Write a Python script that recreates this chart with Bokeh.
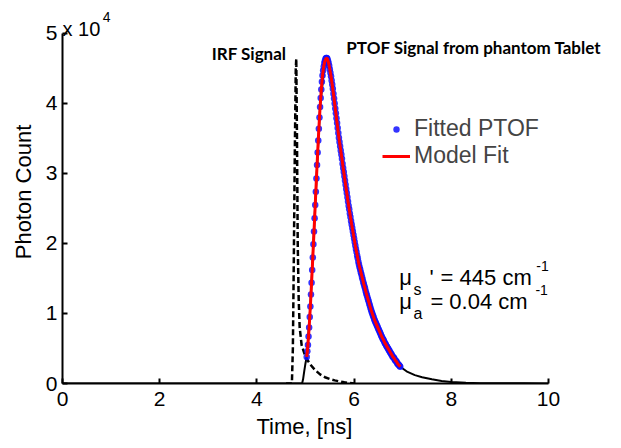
import numpy as np
from bokeh.plotting import figure
from bokeh.models import Range1d, Label, Legend, LegendItem, FixedTicker, CustomJSTickFormatter, Title
from bokeh.embed import file_html
from bokeh.resources import INLINE

# ---------------- data ----------------
# Fitted PTOF (blue dots), uniform time bins
fit_start_ns = 5.025
fit_step_ns = 0.0125
fitted_ptof = [
    3800, 4600, 5500, 6700, 8000, 9500, 11000, 12700, 14400, 16200,
    18000, 19900, 21700, 23600, 25500, 27400, 29300, 31200, 33000, 34700,
    36400, 38000, 39500, 40800, 42000, 43100, 44000, 44700, 45300, 45800,
    46100, 46400, 46500, 46500, 46400, 46100, 45800, 45400, 44900, 44400,
    43900, 43300, 42700, 42100, 41400, 40700, 40000, 39300, 38600, 37900,
    37200, 36500, 35800, 35100, 34500, 33900, 33300, 32700, 32100, 31400,
    30800, 30200, 29600, 29000, 28400, 27800, 27200, 26600, 26000, 25400,
    24900, 24300, 23800, 23200, 22700, 22200, 21700, 21200, 20700, 20200,
    19700, 19200, 18800, 18300, 17900, 17400, 17000, 16600, 16300, 15900,
    15600, 15200, 14900, 14500, 14200, 13900, 13600, 13200, 12900, 12600,
    12300, 12000, 11700, 11400, 11100, 10800, 10500, 10200, 10000, 9700,
    9500, 9200, 9000, 8800, 8600, 8400, 8200, 8000, 7800, 7600,
    7400, 7200, 7000, 6800, 6600, 6400, 6300, 6100, 5900, 5700,
    5600, 5400, 5300, 5100, 5000, 4800, 4700, 4500, 4400, 4200,
    4100, 3900, 3800, 3700, 3600, 3400, 3300, 3200, 3100, 2900,
    2800, 2700, 2600, 2500, 2400,
]

# Model fit (red line)
model_start_ns = 5.025
model_step_ns = 0.025
model_fit = [
    3800, 5500, 8000, 11000, 14400, 18000, 21700, 25500, 29300, 33000,
    36400, 39500, 42000, 44000, 45300, 46100, 46500, 46400, 45800, 44900,
    43900, 42700, 41400, 40000, 38600, 37200, 35800, 34500, 33300, 32100,
    30800, 29600, 28400, 27200, 26000, 24900, 23800, 22700, 21700, 20700,
    19700, 18800, 17900, 17000, 16300, 15600, 14900, 14200, 13600, 12900,
    12300, 11700, 11100, 10500, 10000, 9500, 9000, 8600, 8200, 7800,
    7400, 7000, 6600, 6300, 5900, 5600, 5300, 5000, 4700, 4400,
    4100, 3800, 3600, 3300, 3100, 2800, 2600, 2400,
]

# Measured PTOF signal (black solid)
ptof_time = [0.0, 4.93, 4.95, 4.975, 5.00, 5.025, 5.10, 5.20, 5.30, 5.40, 5.43,
             5.50, 5.60, 5.70, 5.80, 5.90, 6.00, 6.20, 6.40, 6.60, 6.80, 6.95,
             7.10, 7.25, 7.40, 7.60, 7.80, 8.00, 8.30, 8.60, 9.00, 9.50, 10.0]
ptof_counts = [0, 0, 600, 1800, 2900, 3800, 11000, 25500, 39500, 46100, 46500,
               44900, 40000, 34500, 29600, 24900, 20700, 14200, 9500, 6300, 3800, 2400,
               1650, 1200, 900, 600, 350, 200, 100, 50, 30, 20, 0]

# IRF signal (black dashed)
irf_time = [4.60, 4.72, 4.74, 4.76, 4.78, 4.80, 4.81, 4.825, 4.84, 4.86, 4.88,
            4.92, 5.00, 5.10, 5.20, 5.30, 5.40, 5.50, 5.60, 5.70, 5.80, 5.90, 6.00]
irf_counts = [0, 0, 5000, 18000, 33000, 45000, 46400, 35000, 20000, 12000, 8000,
              5500, 3800, 2700, 1900, 1300, 900, 650, 450, 300, 180, 80, 0]

x_ticks = [0, 2, 4, 6, 8, 10]
y_ticks = [0, 10000, 20000, 30000, 40000, 50000]

fit_time = fit_start_ns + fit_step_ns * np.arange(len(fitted_ptof))
model_time = model_start_ns + model_step_ns * np.arange(len(model_fit))

# ---------------- figure ----------------
FONT = "Liberation Sans"
# frame spans to the top/right canvas edges; axes are bounded to the data ranges
p = figure(width=621, height=448, output_backend="svg", toolbar_location=None,
           x_range=Range1d(0, 11.502), y_range=Range1d(0, 54714),
           min_border_left=62, min_border_right=0, min_border_top=0, min_border_bottom=65)
p.outline_line_color = None
p.grid.visible = False
p.background_fill_color = "white"
p.border_fill_color = "white"

r_ptof = p.line(ptof_time, ptof_counts, line_color="black", line_width=2)
r_irf = p.line(irf_time, irf_counts, line_color="black", line_width=2.5, line_dash="6 3")
r_dots = p.scatter(fit_time, fitted_ptof, size=6.5, fill_color="#1010ff", line_color=None, fill_alpha=0.85)
r_model = p.line(model_time, model_fit, line_color="#ff0000", line_width=3)

for ax in (p.xaxis[0], p.yaxis[0]):
    ax.axis_line_width = 2
    ax.axis_line_color = "black"
    ax.major_tick_in = 5
    ax.major_tick_out = 0
    ax.major_tick_line_width = 2
    ax.minor_tick_line_color = None
    ax.major_label_text_font = FONT
    ax.major_label_text_font_size = "21px"
    ax.major_label_text_color = "black"

p.xaxis.bounds = (0, 10)
p.yaxis.bounds = (0, 50000)
p.xaxis.ticker = FixedTicker(ticks=x_ticks)
p.yaxis.ticker = FixedTicker(ticks=y_ticks)
p.yaxis.formatter = CustomJSTickFormatter(code="return (tick/10000).toFixed(0);")
p.xaxis.major_label_standoff = 8
p.yaxis.major_label_standoff = 5

# axis titles (placed as side titles so they centre on the bounded axes)
p.add_layout(Title(text="Time, [ns]", align="left", offset=194, standoff=6,
                   text_font=FONT, text_font_size="22px", text_font_style="normal",
                   text_color="black"), "below")
p.add_layout(Title(text="Photon Count", align="center", offset=-18, standoff=14,
                   text_font=FONT, text_font_size="22px", text_font_style="normal",
                   text_color="black"), "left")

# legend
legend = Legend(items=[LegendItem(label="Fitted PTOF", renderers=[r_dots]),
                       LegendItem(label="Model Fit", renderers=[r_model])],
                location=(320, 214), padding=0, margin=0, spacing=0,
                glyph_width=28, glyph_height=16, label_height=27, label_standoff=4,
                label_text_font=FONT, label_text_font_size="23px",
                border_line_color=None, background_fill_alpha=0)
p.add_layout(legend)

def lab(x, y, text, size, bold=False, font=FONT):
    p.add_layout(Label(x=x, y=y, text=text, text_font=font, text_font_size=size,
                       text_color="black", text_font_style="bold" if bold else "normal",
                       text_baseline="alphabetic", text_align="left"))

# axis multiplier
lab(0.0, 50714, "x 10", "20px")
lab(0.83, 52286, "4", "14px")
# annotations
lab(3.07, 47143, "IRF Signal", "17px", bold=True, font="Lato")
lab(5.84, 48000, "PTOF Signal from phantom Tablet", "17px", bold=True, font="Lato")
# mu_s'
lab(6.93, 15143, "\u03bc", "22px")
lab(7.22, 13429, "s", "16px")
lab(7.55, 15143, "'", "22px")
lab(7.78, 15143, "= 445 cm", "22px")
lab(9.75, 16857, "-1", "14px")
# mu_a
lab(6.93, 11714, "\u03bc", "22px")
lab(7.22, 10000, "a", "16px")
lab(7.57, 11714, "= 0.04 cm", "22px")
lab(9.73, 13286, "-1", "14px")

open("out.html", "w").write(file_html(p, INLINE))
